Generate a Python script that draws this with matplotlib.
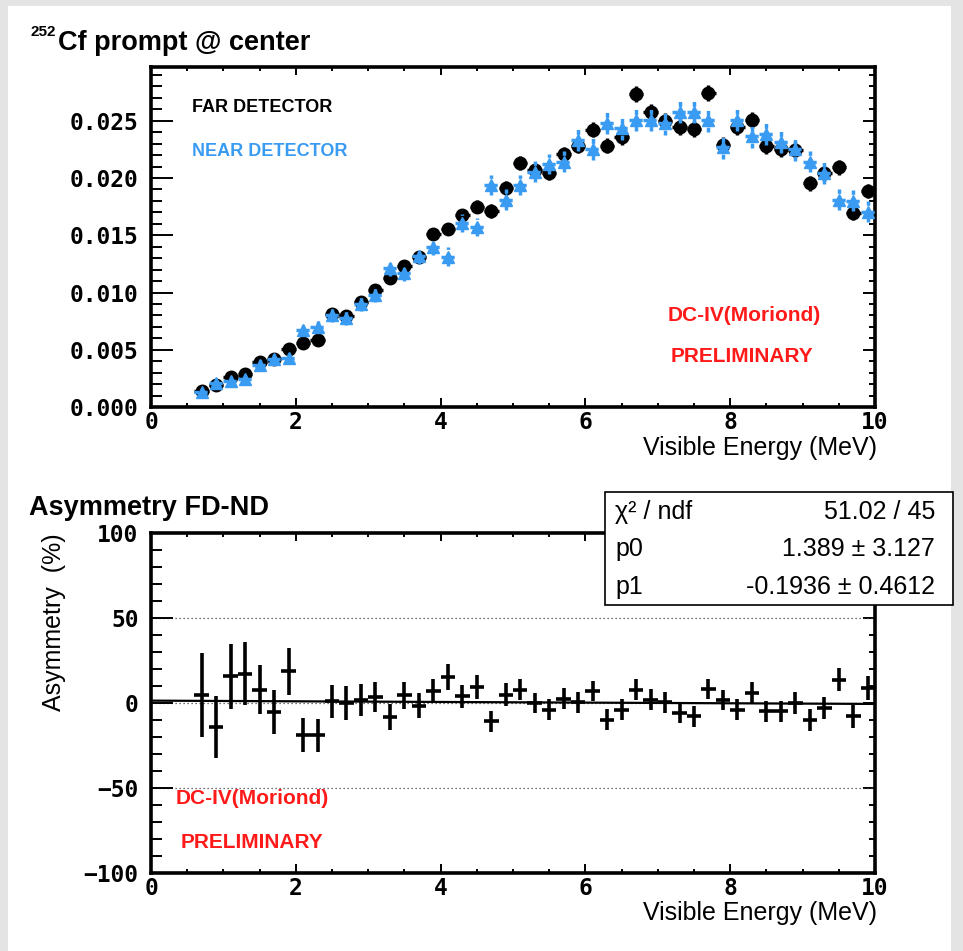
import matplotlib
matplotlib.use("Agg")
import matplotlib.pyplot as plt
from matplotlib.patches import Rectangle
from matplotlib.ticker import MultipleLocator, FormatStrFormatter
import numpy as np

# ---- data -------------------------------------------------------------
energy = [0.7, 0.9, 1.1, 1.3, 1.5, 1.7, 1.9, 2.1, 2.3, 2.5, 2.7, 2.9, 3.1, 3.3,
          3.5, 3.7, 3.9, 4.1, 4.3, 4.5, 4.7, 4.9, 5.1, 5.3, 5.5, 5.7, 5.9, 6.1,
          6.3, 6.5, 6.7, 6.9, 7.1, 7.3, 7.5, 7.7, 7.9, 8.1, 8.3, 8.5, 8.7, 8.9,
          9.1, 9.3, 9.5, 9.7, 9.9]
bin_half_width = 0.1

far = [0.0014, 0.0019, 0.00265, 0.00286, 0.00396, 0.0042, 0.0051, 0.00557,
       0.00586, 0.00813, 0.00795, 0.00918, 0.01023, 0.01125, 0.01235, 0.01314,
       0.01512, 0.01556, 0.01678, 0.01751, 0.01713, 0.01911, 0.0213, 0.02072,
       0.02043, 0.02209, 0.02281, 0.02421, 0.02281, 0.02357, 0.02736, 0.02581,
       0.0250, 0.0245, 0.02427, 0.02742, 0.0229, 0.02445, 0.02509, 0.02281,
       0.02252, 0.02246, 0.01955, 0.02043, 0.02095, 0.01693, 0.01888]
far_err = [0.0002, 0.0002, 0.00025, 0.00025, 0.0003, 0.0003, 0.00035, 0.00035,
           0.00035, 0.0004, 0.0004, 0.0004, 0.00045, 0.00045, 0.0005, 0.0005,
           0.0005, 0.00055, 0.00055, 0.00055, 0.0006, 0.0006, 0.0006, 0.0006,
           0.0006, 0.00065, 0.00065, 0.00065, 0.00065, 0.0007, 0.0007, 0.0007,
           0.0007, 0.0007, 0.0007, 0.0007, 0.0007, 0.0007, 0.0007, 0.0007,
           0.0007, 0.0007, 0.00065, 0.00065, 0.00065, 0.0006, 0.0006]

near = [0.00128, 0.00207, 0.0023, 0.00242, 0.00367, 0.0042, 0.00426, 0.0067,
        0.0070, 0.0080, 0.0078, 0.0090, 0.0098, 0.01212, 0.01168, 0.0132,
        0.01396, 0.01314, 0.01606, 0.01571, 0.0194, 0.0181, 0.0194, 0.02057,
        0.02124, 0.02144, 0.02334, 0.02252, 0.02485, 0.02436, 0.02509, 0.02509,
        0.0248, 0.02581, 0.02581, 0.02503, 0.0227, 0.02509, 0.02363, 0.02386,
        0.02319, 0.02252, 0.02144, 0.02043, 0.0181, 0.01803, 0.01707]
near_err = [0.0003, 0.0003, 0.00035, 0.00035, 0.00045, 0.00045, 0.0005, 0.0005,
            0.0005, 0.0006, 0.0006, 0.0006, 0.00065, 0.00065, 0.0007, 0.0007,
            0.0007, 0.0008, 0.0008, 0.0008, 0.0009, 0.0009, 0.0009, 0.0009,
            0.0009, 0.00095, 0.00095, 0.00095, 0.001, 0.001, 0.001, 0.001,
            0.001, 0.001, 0.001, 0.001, 0.001, 0.001, 0.001, 0.001,
            0.001, 0.001, 0.00095, 0.00095, 0.0009, 0.0009, 0.0009]

asym = [4.9, -14.2, 15.7, 17.3, 7.9, -5.5, 18.7, -18.7, -19.1, 1.0, 0.0, 1.6,
        3.5, -8.3, 4.5, -1.6, 6.9, 15.2, 3.9, 9.4, -10.8, 4.9, 7.9, 0.0, -3.9,
        2.4, 0.4, 6.9, -9.8, -3.9, 7.9, 2.0, 0.4, -5.9, -7.9, 8.3, 1.6, -3.9,
        5.9, -4.9, -4.9, 0.0, -9.8, -3.0, 13.8, -7.9, 8.9]
asym_err = [24.8, 18.2, 19.2, 18.5, 14.6, 13.0, 13.8, 10.1, 9.8, 9.8, 9.8, 9.4,
            8.9, 7.5, 8.0, 7.5, 7.1, 7.6, 6.9, 6.9, 6.2, 6.6, 6.3, 6.0, 6.0,
            6.2, 6.0, 6.0, 6.0, 6.0, 6.0, 6.0, 6.0, 6.0, 6.0, 6.0, 6.0, 6.0,
            6.2, 6.2, 6.2, 6.4, 6.5, 6.6, 6.8, 7.0, 7.2]

# linear fit results: p0 + p1 * E
chi2, ndf = 51.02, 45
p0, p0_err = 1.389, 3.127
p1, p1_err = -0.1936, 0.4612

x_ticks = [0, 2, 4, 6, 8, 10]
top_yticks = [0.000, 0.005, 0.010, 0.015, 0.020, 0.025]
bottom_yticks = [-100, -50, 0, 50, 100]

# ---- styling ----------------------------------------------------------
W, H = 963, 951
BLUE = "#3a9bf2"
RED = "#ff1a1a"
SANS = "Liberation Sans"
MONO = "DejaVu Sans Mono"


def fx(px):
    return px / W


def fy(py):
    return 1 - py / H


fig = plt.figure(figsize=(W / 100, H / 100), dpi=100, facecolor="#e4e4e4")
fig.add_artist(Rectangle((fx(8), 0), fx(951) - fx(8), fy(6), transform=fig.transFigure,
                         facecolor="white", edgecolor="none", zorder=-10))


def style_axes(ax):
    for s in ax.spines.values():
        s.set_linewidth(2.6)
    ax.tick_params(which="both", direction="in", top=False, right=False, width=1.4,
                   colors="black")
    ax.tick_params(axis="y", which="major", length=16, pad=9)
    ax.tick_params(axis="y", which="minor", length=8)
    ax.tick_params(axis="x", which="major", length=6.5, pad=3)
    ax.tick_params(axis="x", which="minor", length=3)
    ax.set_xlim(0, 10)
    ax.xaxis.set_major_locator(MultipleLocator(2))
    ax.xaxis.set_minor_locator(MultipleLocator(0.5))
    ax.set_xticks(x_ticks)
    for lab in ax.get_xticklabels() + ax.get_yticklabels():
        lab.set_fontfamily(MONO)
        lab.set_fontweight("bold")
        lab.set_fontsize(16.5)
    # mirrored ticks on the top and right frame (shorter, no labels)
    top = ax.secondary_xaxis("top")
    top.set_xticks(x_ticks)
    top.xaxis.set_minor_locator(MultipleLocator(0.5))
    top.tick_params(which="both", direction="in", labeltop=False, width=1.4)
    top.tick_params(which="major", length=6)
    top.tick_params(which="minor", length=3)
    for s in top.spines.values():
        s.set_visible(False)
    right = ax.secondary_yaxis("right")
    right.set_yticks(ax.get_yticks())
    right.yaxis.set_minor_locator(ax.yaxis.get_minor_locator())
    right.tick_params(which="both", direction="in", labelright=False, width=1.4)
    right.tick_params(which="major", length=8.5)
    right.tick_params(which="minor", length=4.5)
    for s in right.spines.values():
        s.set_visible(False)


# ---- top panel: spectra -------------------------------------------------
ax1 = fig.add_axes([fx(151), fy(407), fx(875) - fx(151), fy(67) - fy(407)])
ax1.set_ylim(0, 0.0297)
ax1.set_yticks(top_yticks)
ax1.yaxis.set_minor_locator(MultipleLocator(0.001))
ax1.yaxis.set_major_formatter(FormatStrFormatter("%.3f"))

ax1.errorbar(energy, far, xerr=bin_half_width, yerr=far_err, fmt="o", color="black",
             ms=9, elinewidth=2.5, capsize=0, zorder=3)
eb_near = ax1.errorbar(energy, near, xerr=bin_half_width, yerr=near_err, fmt="^",
                       color=BLUE, ms=9, elinewidth=2.5, capsize=0, zorder=4)
for lc in eb_near[2]:
    lc.set_linestyle((0, (1.4, 1.0)))
style_axes(ax1)

# ---- bottom panel: asymmetry -------------------------------------------
ax2 = fig.add_axes([fx(151), fy(873), fx(875) - fx(151), fy(533) - fy(873)])
ax2.set_ylim(-100, 100)
ax2.set_yticks(bottom_yticks)
ax2.yaxis.set_minor_locator(MultipleLocator(10))
for level in (50, 0, -50):
    ax2.axhline(level, color="#444444", lw=0.9, ls=(0, (1, 2.2)), zorder=1)
ax2.errorbar(energy, asym, xerr=bin_half_width, yerr=asym_err, fmt="none",
             ecolor="black", elinewidth=2.6, capsize=0, zorder=3)
fit_x = np.array([0.0, 10.0])
ax2.plot(fit_x, p0 + p1 * fit_x, color="black", lw=1.6, zorder=4)
style_axes(ax2)

# ---- texts --------------------------------------------------------------
fig.text(fx(30), fy(36), "252", fontsize=11, fontweight="bold", family=SANS,
         va="baseline", ha="left")
fig.text(fx(58), fy(50), "Cf prompt @ center", fontsize=19.5, fontweight="bold",
         family=SANS, va="baseline", ha="left")
fig.text(fx(29), fy(515), "Asymmetry FD-ND", fontsize=19.5, fontweight="bold",
         family=SANS, va="baseline", ha="left")

fig.text(fx(192), fy(107), "FAR DETECTOR", fontsize=13, fontweight="bold",
         family=SANS, color="black", va="center", ha="left")
fig.text(fx(192), fy(151), "NEAR DETECTOR", fontsize=13, fontweight="bold",
         family=SANS, color=BLUE, va="center", ha="left")

for (xl, yl, txt) in [(668, 316, "DC-IV(Moriond)"), (671, 356, "PRELIMINARY"),
                      (176, 799, "DC-IV(Moriond)"), (181, 843, "PRELIMINARY")]:
    fig.text(fx(xl), fy(yl), txt, fontsize=15, fontweight="bold", family=SANS,
             color=RED, va="center", ha="left", zorder=6)

for yb in (455, 920):
    fig.text(fx(877), fy(yb), "Visible Energy (MeV)", fontsize=18, family=SANS,
             va="baseline", ha="right")

fig.text(fx(54), fy(622), "Asymmetry  (%)", fontsize=18, family=SANS,
         rotation=90, va="center", ha="center")

# fit statistics box
fig.add_artist(Rectangle((fx(605), fy(605)), fx(953) - fx(605), fy(492) - fy(605),
                         transform=fig.transFigure, facecolor="white",
                         edgecolor="black", lw=1.2, zorder=5))
stats = [("χ² / ndf", f"{chi2:.2f} / {ndf}"),
         ("p0", f"{p0} ± {p0_err}"),
         ("p1", f"{p1} ± {p1_err}")]
for (name, val), yc in zip(stats, (512, 549, 587)):
    fig.text(fx(615), fy(yc), name, fontsize=18, family=SANS, va="center",
             ha="left", zorder=6)
    fig.text(fx(935), fy(yc), val, fontsize=18, family=SANS, va="center",
             ha="right", zorder=6)

fig.savefig("out.png", dpi=100, facecolor=fig.get_facecolor())
